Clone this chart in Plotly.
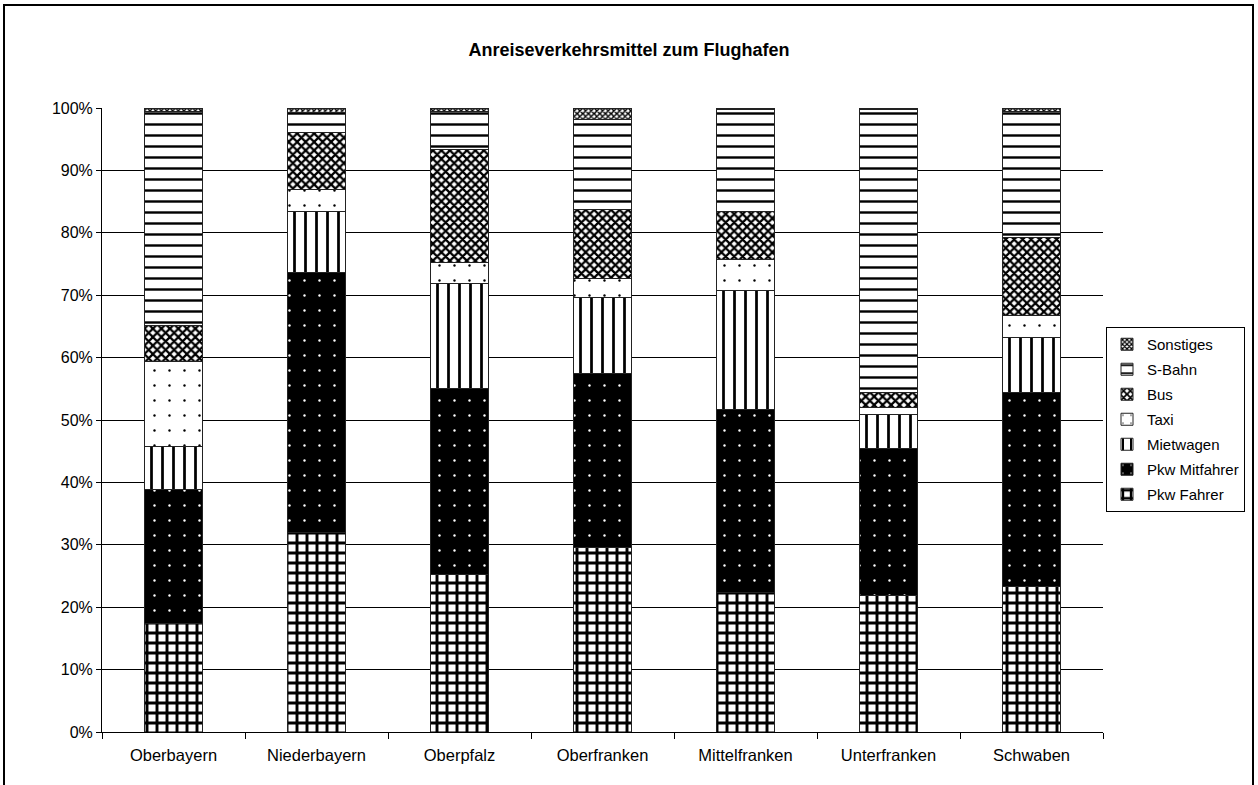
import plotly.graph_objects as go

categories = ["Oberbayern", "Niederbayern", "Oberpfalz", "Oberfranken",
              "Mittelfranken", "Unterfranken", "Schwaben"]

pkw_fahrer    = [17.4, 32.0, 25.3, 29.6, 22.4, 21.8, 23.3]
pkw_mitfahrer = [21.4, 41.7, 29.8, 27.9, 29.3, 23.7, 31.1]
mietwagen     = [7.0, 9.7, 16.8, 12.2, 19.0, 5.4, 8.8]
taxi          = [13.5, 3.6, 3.4, 3.0, 5.1, 1.1, 3.6]
bus           = [5.9, 9.1, 18.1, 11.0, 7.6, 2.4, 12.4]
s_bahn        = [34.2, 3.1, 6.0, 14.5, 16.3, 45.4, 20.3]
sonstiges     = [0.6, 0.8, 0.6, 1.8, 0.3, 0.2, 0.5]

y_tick_vals = [0, 10, 20, 30, 40, 50, 60, 70, 80, 90, 100]
y_tick_text = ["0%", "10%", "20%", "30%", "40%", "50%", "60%", "70%", "80%", "90%", "100%"]
title_text = "Anreiseverkehrsmittel zum Flughafen"

series = [
    ("Pkw Fahrer", pkw_fahrer, dict(shape="+", bgcolor="white", fgcolor="black", size=10, solidity=0.5)),
    ("Pkw Mitfahrer", pkw_mitfahrer, dict(shape=".", bgcolor="black", fgcolor="white", size=15, solidity=0.02)),
    ("Mietwagen", mietwagen, dict(shape="|", bgcolor="white", fgcolor="black", size=11, solidity=0.25)),
    ("Taxi", taxi, dict(shape=".", bgcolor="white", fgcolor="black", size=15, solidity=0.02)),
    ("Bus", bus, dict(shape="x", bgcolor="white", fgcolor="black", size=6, solidity=0.6)),
    ("S-Bahn", s_bahn, dict(shape="-", bgcolor="white", fgcolor="black", size=11, solidity=0.22)),
    ("Sonstiges", sonstiges, dict(shape="x", bgcolor="white", fgcolor="black", size=4, solidity=0.6)),
]

fig = go.Figure()
n = len(series)
for i, (name, vals, pat) in enumerate(series):
    fig.add_trace(go.Bar(
        x=categories, y=vals, name=name, legendgroup=name, legendrank=n - i,
        marker=dict(color=pat["bgcolor"], pattern=dict(fillmode="replace", **pat),
                    line=dict(color="#222222", width=1)),
    ))

PL, PR, PT, PB = 102, 1103, 108, 732
W, H = 1258, 785

def px2x(px):
    return (px - PL) / (PR - PL)

def px2y(py):
    return (PB - py) / (PB - PT)

fig.update_layout(
    width=W, height=H,
    margin=dict(l=PL, r=W - PR, t=PT, b=H - PB, autoexpand=False),
    barmode="stack", bargap=0.595,
    plot_bgcolor="white", paper_bgcolor="white",
    font=dict(family="Liberation Sans, Arial, sans-serif", size=16, color="black"),
    title=dict(text="<b>" + title_text + "</b>", x=0.5, xanchor="center",
               y=1 - 50 / H, yanchor="middle", font=dict(size=18)),
    showlegend=True,
    legend=dict(x=px2x(1106), xanchor="left", y=px2y(327), yanchor="top",
                traceorder="grouped", bordercolor="black", borderwidth=1,
                bgcolor="white", font=dict(size=15), tracegroupgap=2.5,
                itemwidth=30),
    xaxis=dict(showline=True, linecolor="black", linewidth=1, ticks="outside",
               tickson="boundaries", ticklen=6, tickcolor="black",
               showgrid=False, tickfont=dict(size=16.5), ticklabelstandoff=8),
    yaxis=dict(range=[0, 100], tickvals=y_tick_vals, ticktext=y_tick_text,
               showline=True, linecolor="black", linewidth=1, ticks="outside",
               ticklen=5, tickcolor="black", showgrid=True, gridcolor="black",
               gridwidth=1, zeroline=False, tickfont=dict(size=16)),
    shapes=[dict(type="rect", xref="paper", yref="paper",
                 x0=px2x(4), x1=px2x(1253), y0=px2y(820), y1=px2y(5),
                 line=dict(color="black", width=2), fillcolor="rgba(0,0,0,0)",
                 layer="above")],
)

fig.write_html("out.html", config={"displayModeBar": False},
               post_script="document.body.style.margin='0px';document.body.style.overflow='hidden';")
